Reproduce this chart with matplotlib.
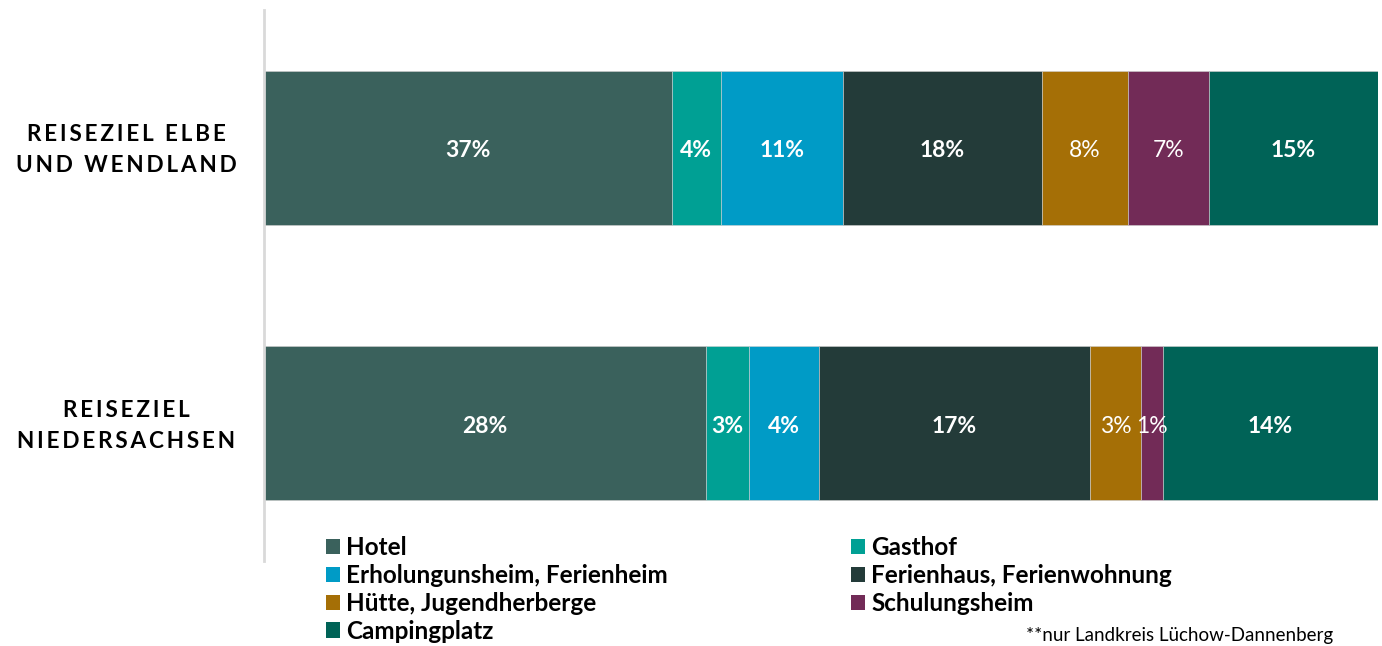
import numpy as np
import matplotlib.pyplot as plt
from matplotlib.patches import Patch

plt.rcParams['font.family'] = ['Lato', 'DejaVu Sans']

# Daten (Anteile in %)
regionen = ['REISEZIEL ELBE\nUND WENDLAND', 'REISEZIEL\nNIEDERSACHSEN']
kategorien = ['Hotel', 'Gasthof', 'Erholungunsheim, Ferienheim', 'Ferienhaus, Ferienwohnung',
              'Hütte, Jugendherberge', 'Schulungsheim', 'Campingplatz']
elbe = [36.6, 4.4, 11.0, 17.8, 7.8, 7.2, 15.2]
niedersachsen = [28.0, 2.7, 4.4, 17.2, 3.2, 1.4, 13.6]
farben = ['#3A615C', '#00A094', '#009BC6', '#233B39', '#A56F06', '#722B57', '#006357']
fett = [True, True, True, True, False, False, True]   # Beschriftung fett oder nicht

werte = np.array([elbe, niedersachsen])

fig = plt.figure(figsize=(13.82, 6.46), dpi=100)
ax = fig.add_axes([264/1382, 1 - 561/646, 1114/1382, 551/646])

for r in range(len(regionen)):
    rij = werte[r]
    breite = rij / rij.sum() * 100          # 100%-gestapelt
    links = np.concatenate([[0], np.cumsum(breite)[:-1]])
    for i in range(len(kategorien)):
        ax.barh(r, breite[i], left=links[i], height=0.558, color=farben[i],
                edgecolor='#cfcfcf', linewidth=0.4)
        ax.text(links[i] + breite[i] / 2, r + 0.01, f'{rij[i]:.0f}%', ha='center', va='center',
                color='white', fontsize=16.5, fontweight='bold' if fett[i] else 'normal')

ax.set_xlim(0, 100)
ax.set_ylim(1.5, -0.5)
ax.set_xticks([])
ax.set_yticks([])
for s in ['top', 'right', 'bottom']:
    ax.spines[s].set_visible(False)
ax.spines['left'].set_color('#d9d9d9')
ax.spines['left'].set_linewidth(2)

# Kategorie-Beschriftung (gesperrt)
for r, naam in enumerate(regionen):
    gesperrt = '\n'.join('\u2009'.join(regel) for regel in naam.split('\n'))
    fig.text(126/1382, 1 - (150 + r*276)/646, gesperrt, ha='center', va='center',
             multialignment='center', fontsize=16.2, fontweight='bold', linespacing=1.55,
             family=['Lato', 'DejaVu Sans'])

# Legende in zwei Spalten
griffe = [Patch(facecolor=f) for f in farben]
kol1 = [0, 2, 4, 6]
kol2 = [1, 3, 5]
opts = dict(frameon=False, prop={'weight': 'bold', 'size': 17.5},
            handlelength=0.58, handleheight=0.58, handletextpad=0.25,
            labelspacing=0.2, borderpad=0, borderaxespad=0)
fig.legend([griffe[i] for i in kol1], [kategorien[i] for i in kol1],
           loc='upper left', bbox_to_anchor=(326/1382, 1 - 536/646), **opts)
fig.legend([griffe[i] for i in kol2], [kategorien[i] for i in kol2],
           loc='upper left', bbox_to_anchor=(851/1382, 1 - 536/646), **opts)

fig.text(1026/1382, 2/646, '**nur Landkreis Lüchow-Dannenberg', ha='left', va='bottom',
         fontsize=13.5)

fig.savefig('out.png', dpi=100)
